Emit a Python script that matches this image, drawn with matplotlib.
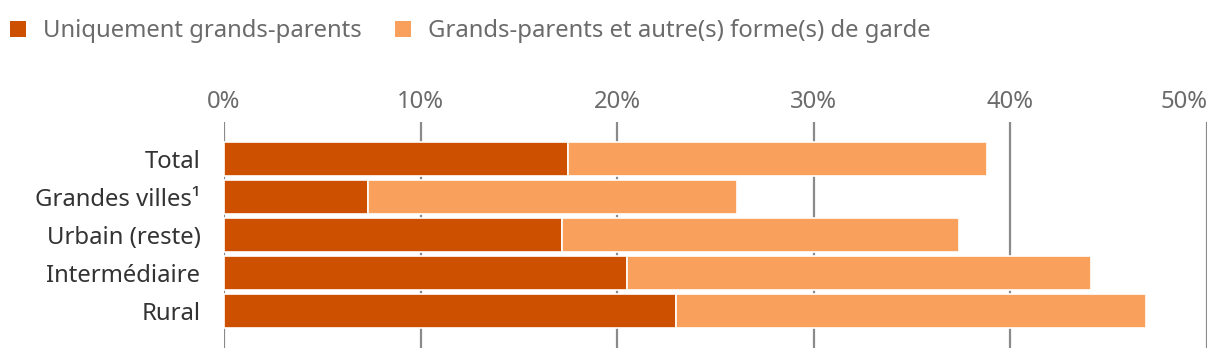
import matplotlib
matplotlib.use("Agg")
import matplotlib.pyplot as plt
from matplotlib.patches import Patch

categories = ["Total", "Grandes villes¹", "Urbain (reste)", "Intermédiaire", "Rural"]
uniquement = [17.5, 7.3, 17.2, 20.5, 23.0]
avec_autres = [21.3, 18.8, 20.2, 23.6, 23.9]
series_names = ["Uniquement grands-parents", "Grands-parents et autre(s) forme(s) de garde"]
xticks = [0, 10, 20, 30, 40, 50]
xtick_labels = ["0%", "10%", "20%", "30%", "40%", "50%"]

c_dark = "#cc5000"
c_light = "#f9a05c"

plt.rcParams['font.family'] = ['Noto Sans', 'DejaVu Sans']
FS = 17.2

fig = plt.figure(figsize=(12.2, 3.6), dpi=100)
ax = fig.add_axes([224/1220, 1-348/360, (1207-224)/1220, (348-122)/360])

y = list(range(len(categories)))
ax.barh(y, uniquement, height=0.92, color=c_dark, edgecolor="white", linewidth=1.2, zorder=3)
ax.barh(y, avec_autres, left=uniquement, height=0.92, color=c_light, edgecolor="white", linewidth=1.2, zorder=3)

ax.set_xlim(0, 50)
ax.set_ylim(4.974, -0.974)
ax.set_xticks(xticks)
ax.set_xticklabels(xtick_labels)
ax.xaxis.tick_top()
ax.tick_params(axis='x', length=0, pad=6, labelsize=FS, labelcolor="#6b6b6b")
ax.set_yticks(y)
ax.set_yticklabels(categories)
ax.tick_params(axis='y', length=0, pad=17, labelsize=FS, labelcolor="#333333")
labels = ax.get_xticklabels()
labels[-1].set_horizontalalignment('right')

ax.grid(axis='x', color="#8a8a8a", linewidth=1.6, zorder=0)
ax.set_axisbelow(True)
for s in ax.spines.values():
    s.set_visible(False)

handles = [Patch(facecolor=c_dark, edgecolor='none'), Patch(facecolor=c_light, edgecolor='none')]
leg = fig.legend(handles, series_names, loc='upper left', bbox_to_anchor=(0.0, 0.975),
                 ncol=2, frameon=False, fontsize=FS, handlelength=0.67, handleheight=0.67,
                 handletextpad=0.7, columnspacing=1.42, borderaxespad=0.02)
for t in leg.get_texts():
    t.set_color("#6b6b6b")

fig.savefig("out.png", dpi=100)
